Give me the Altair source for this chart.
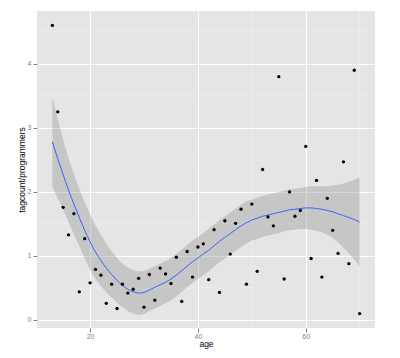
import altair as alt
import pandas as pd

# observed points
ages = [13, 14, 15, 16, 17, 18, 19, 20, 21, 22, 23, 24, 25, 26, 27, 28, 29, 30,
        31, 32, 33, 34, 35, 36, 37, 38, 39, 40, 41, 42, 43, 44, 45, 46, 47, 48,
        49, 50, 51, 52, 53, 54, 55, 56, 57, 58, 59, 60, 61, 62, 63, 64, 65, 66,
        67, 68, 69, 70]
ratio = [4.60, 3.25, 1.76, 1.33, 1.66, 0.44, 1.27, 0.58, 0.79, 0.70, 0.26, 0.56,
         0.18, 0.56, 0.42, 0.48, 0.65, 0.20, 0.71, 0.31, 0.81, 0.72, 0.57, 0.98,
         0.29, 1.07, 0.67, 1.14, 1.19, 0.63, 1.41, 0.43, 1.55, 1.03, 1.51, 1.73,
         0.56, 1.81, 0.76, 2.35, 1.61, 1.47, 3.80, 0.64, 2.00, 1.62, 1.71, 2.71,
         0.96, 2.18, 0.67, 1.90, 1.40, 1.04, 2.47, 0.88, 3.90, 0.10]

# smoother
fit_age = ages
fit = [2.78, 2.52, 2.27, 2.03, 1.81, 1.60, 1.40, 1.22, 1.06, 0.93, 0.81, 0.71,
       0.62, 0.54, 0.48, 0.44, 0.42, 0.43, 0.47, 0.51, 0.55, 0.59, 0.64, 0.70,
       0.77, 0.84, 0.91, 0.97, 1.03, 1.09, 1.16, 1.23, 1.29, 1.35, 1.41, 1.47,
       1.52, 1.56, 1.59, 1.62, 1.64, 1.66, 1.68, 1.70, 1.72, 1.73, 1.74, 1.75,
       1.75, 1.74, 1.73, 1.71, 1.69, 1.66, 1.63, 1.60, 1.57, 1.53]
fit_lo = [2.08, 1.90, 1.72, 1.53, 1.34, 1.15, 0.96, 0.79, 0.64, 0.53, 0.43, 0.35,
          0.27, 0.20, 0.14, 0.10, 0.08, 0.09, 0.14, 0.18, 0.22, 0.26, 0.31, 0.37,
          0.44, 0.51, 0.58, 0.64, 0.70, 0.76, 0.83, 0.90, 0.96, 1.02, 1.08, 1.14,
          1.19, 1.24, 1.27, 1.30, 1.32, 1.34, 1.36, 1.38, 1.40, 1.41, 1.42, 1.42,
          1.41, 1.39, 1.37, 1.33, 1.28, 1.21, 1.13, 1.04, 0.95, 0.84]
fit_hi = [3.48, 3.14, 2.82, 2.53, 2.28, 2.05, 1.84, 1.65, 1.48, 1.33, 1.19, 1.07,
          0.97, 0.88, 0.82, 0.78, 0.76, 0.77, 0.80, 0.84, 0.88, 0.92, 0.97, 1.03,
          1.10, 1.17, 1.24, 1.30, 1.36, 1.42, 1.49, 1.56, 1.62, 1.68, 1.74, 1.80,
          1.85, 1.88, 1.91, 1.94, 1.96, 1.98, 2.00, 2.02, 2.04, 2.05, 2.06, 2.08,
          2.09, 2.09, 2.09, 2.09, 2.10, 2.11, 2.13, 2.16, 2.19, 2.22]

x_ticks = [20, 40, 60]
y_ticks = [0, 1, 2, 3, 4]
x_minor = [30, 50, 70]
y_minor = [0.5, 1.5, 2.5, 3.5, 4.5]

pts = pd.DataFrame({"age": ages, "ratio": ratio})
smooth = pd.DataFrame({"age": fit_age, "fit": fit, "lo": fit_lo, "hi": fit_hi})

xs = alt.Scale(domain=[10.15, 72.85], nice=False, zero=False)
ys = alt.Scale(domain=[-0.125, 4.825], nice=False, zero=False)

xaxis = alt.Axis(values=x_ticks, title="age")
yaxis = alt.Axis(values=y_ticks, title="tagcount/programmers")

minor_x = alt.Chart(pd.DataFrame({"age": x_minor})).mark_rule(
    color="#F2F2F2", strokeWidth=0.6
).encode(x=alt.X("age:Q", scale=xs, axis=xaxis))

minor_y = alt.Chart(pd.DataFrame({"ratio": y_minor})).mark_rule(
    color="#F2F2F2", strokeWidth=0.6
).encode(y=alt.Y("ratio:Q", scale=ys, axis=yaxis))

band = alt.Chart(smooth).mark_area(
    color="#999999", opacity=0.4, interpolate="monotone"
).encode(
    x=alt.X("age:Q", scale=xs, axis=xaxis),
    y=alt.Y("lo:Q", scale=ys, axis=yaxis),
    y2="hi:Q",
)

line = alt.Chart(smooth).mark_line(
    color="#3366FF", strokeWidth=1, interpolate="monotone"
).encode(
    x=alt.X("age:Q", scale=xs, axis=xaxis),
    y=alt.Y("fit:Q", scale=ys, axis=yaxis),
)

points = alt.Chart(pts).mark_circle(color="black", opacity=1, size=11).encode(
    x=alt.X("age:Q", scale=xs, axis=xaxis),
    y=alt.Y("ratio:Q", scale=ys, axis=yaxis),
)

chart = alt.layer(minor_x, minor_y, band, line, points).properties(
    width=338,
    height=317,
    autosize=alt.AutoSizeParams(type="none"),
    padding={"left": 29, "top": 3, "right": 17, "bottom": 22},
).configure(
    font="Liberation Sans"
).configure_view(
    fill="#E5E5E5", strokeWidth=0
).configure_axis(
    grid=True,
    gridColor="#FFFFFF",
    gridWidth=1,
    domain=False,
    tickColor="#7F7F7F",
    tickSize=4,
    tickWidth=1,
    labelColor="#7F7F7F",
    labelFontSize=7,
    titleColor="#000000",
    titleFontSize=8.5,
    titleFontWeight="normal",
).configure_axisX(
    labelPadding=0, titlePadding=0.5
).configure_axisY(
    labelPadding=2, titlePadding=1
)

chart.save("out.html", embed_options={"renderer": "svg", "actions": False})
